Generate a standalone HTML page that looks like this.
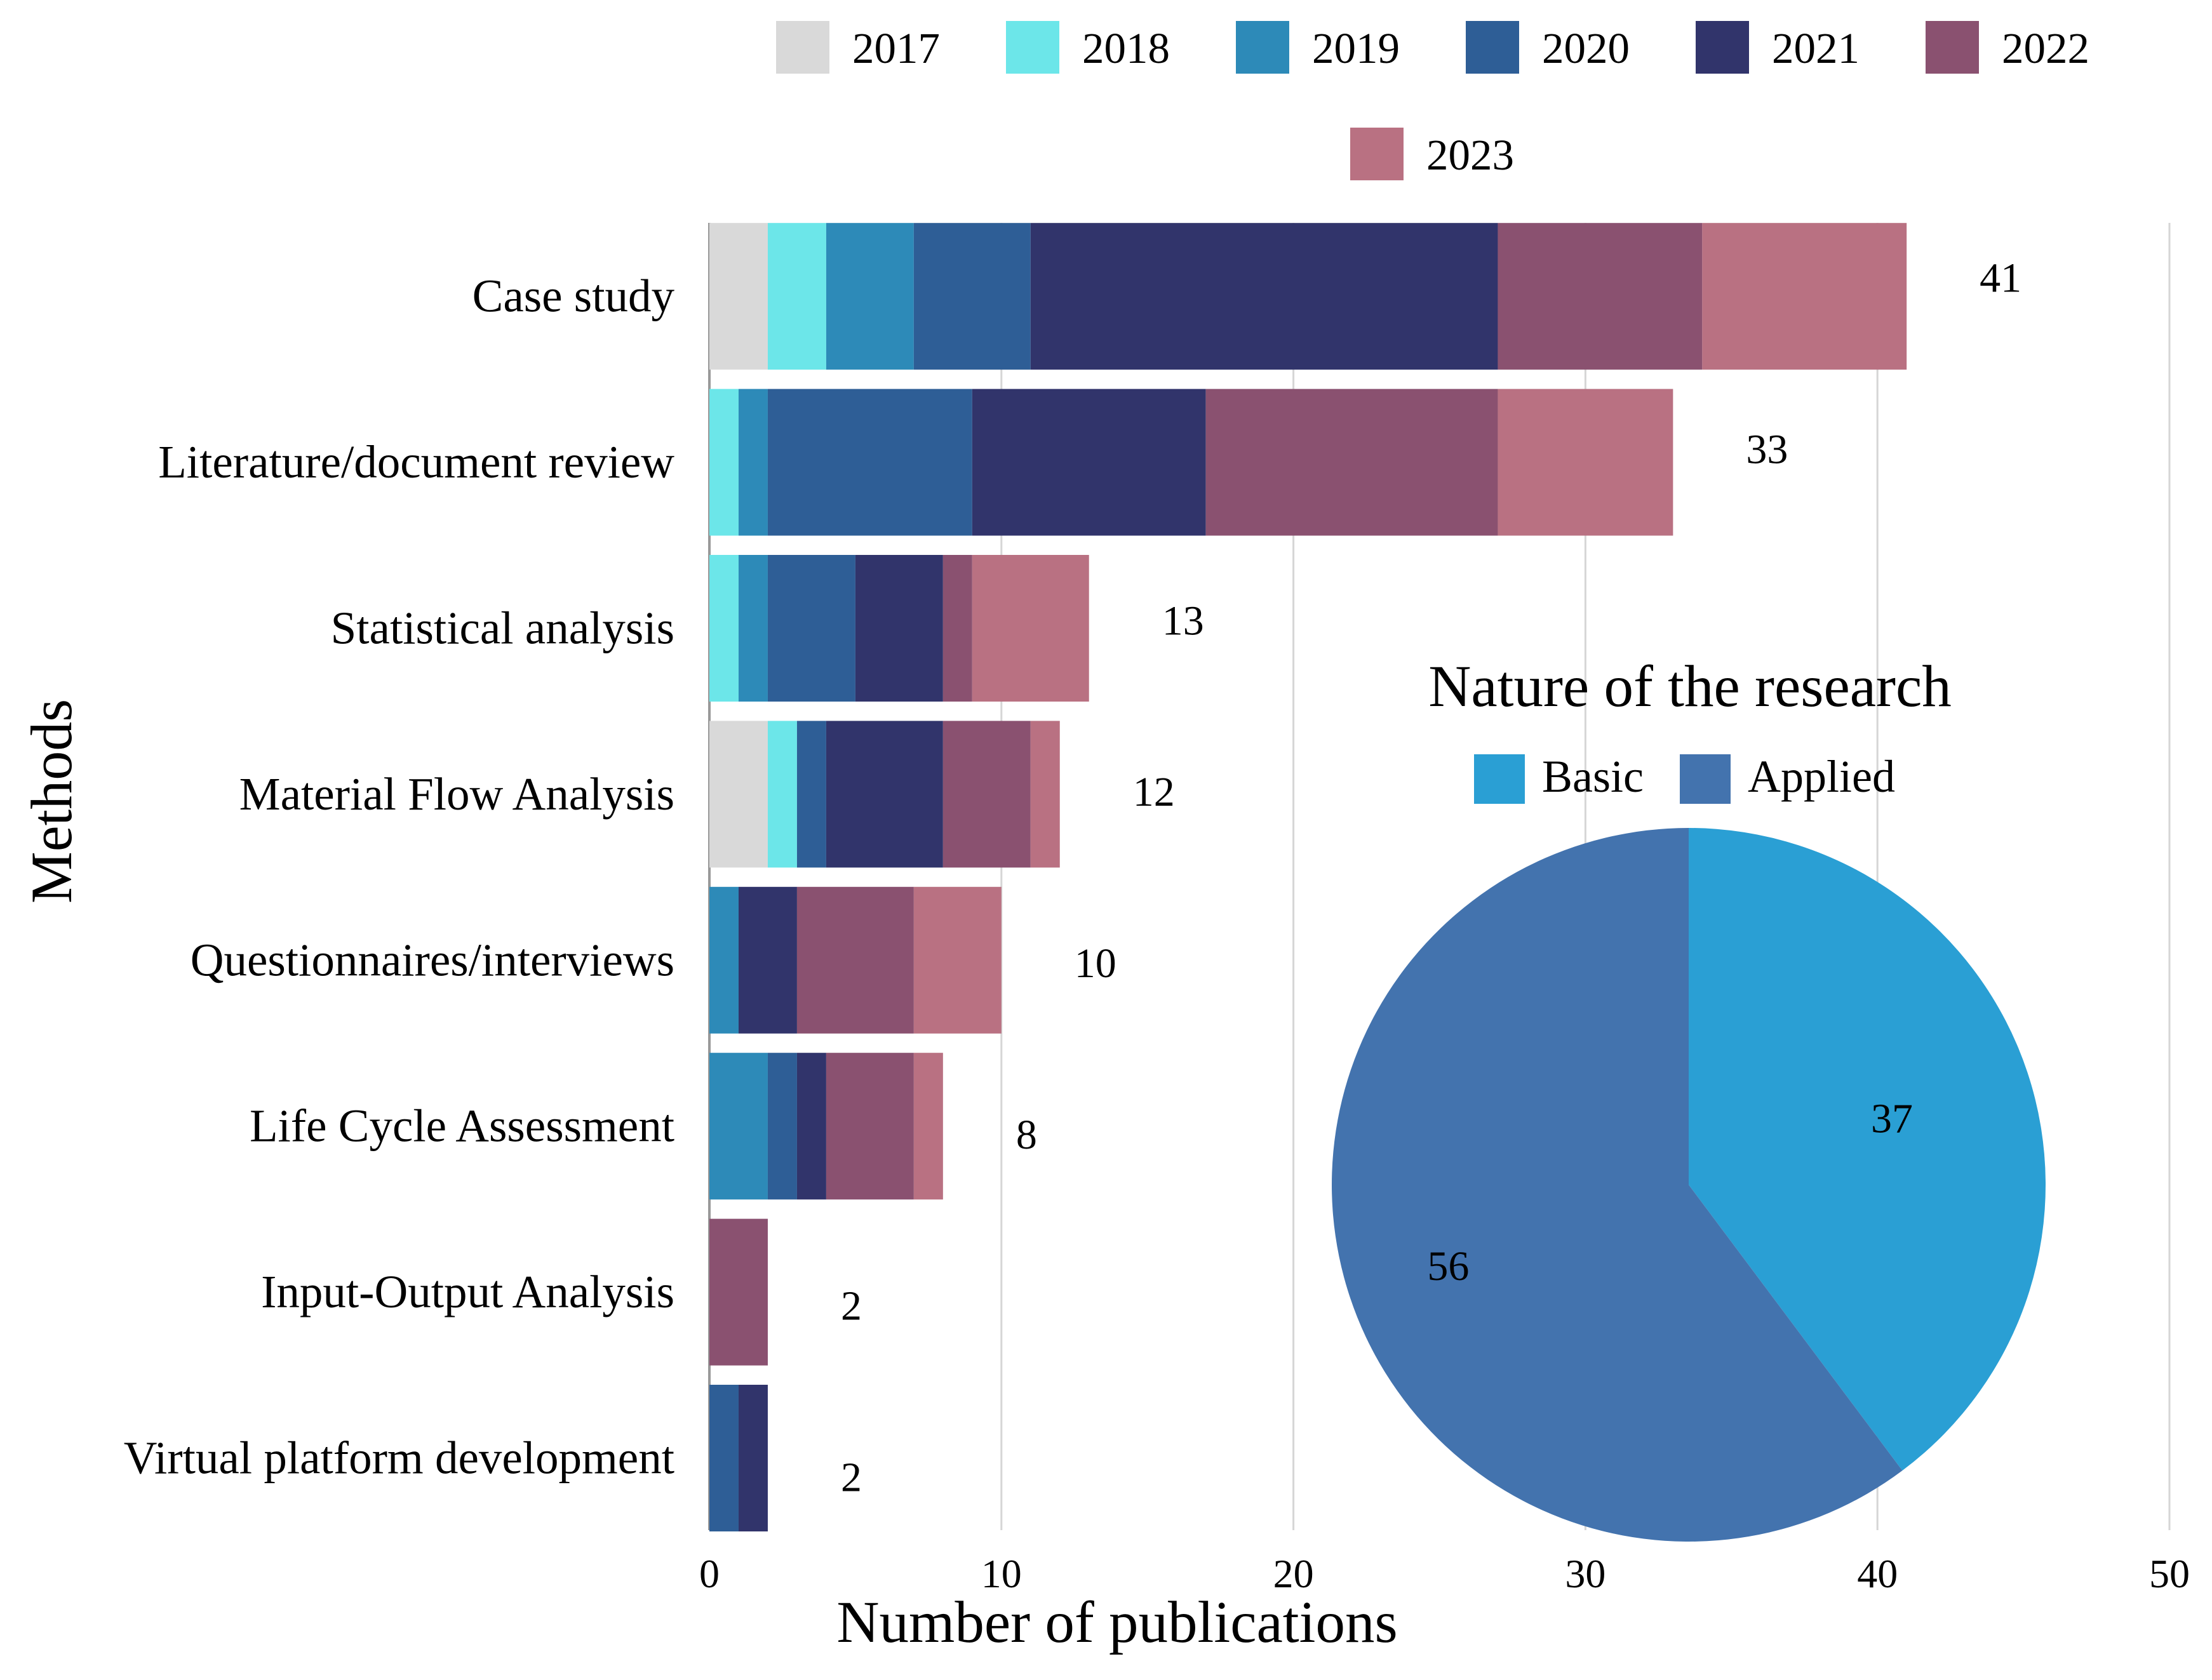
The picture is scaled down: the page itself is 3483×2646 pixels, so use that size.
<!DOCTYPE html>
<html><head><meta charset="utf-8"><style>
html,body{margin:0;padding:0;background:#fff}
svg{display:block;font-family:"Liberation Serif",serif}
</style></head><body>
<svg id="chart" width="3483" height="2646" viewBox="0 0 3483 2646" xmlns="http://www.w3.org/2000/svg">
<g id="grid"></g><g id="bars"></g><g id="labels"></g><g id="legend"></g><g id="pie"></g>
<text x="0" y="0" font-size="92" text-anchor="middle" transform="translate(112,1262) rotate(-90)">Methods</text>
<text x="1759" y="2586" font-size="93" text-anchor="middle">Number of publications</text>
<text x="2661" y="1112" font-size="93" text-anchor="middle">Nature of the research</text>
</svg>
<script>
const categories=["Case study","Literature/document review","Statistical analysis","Material Flow Analysis","Questionnaires/interviews","Life Cycle Assessment","Input-Output Analysis","Virtual platform development"];
const years=["2017","2018","2019","2020","2021","2022","2023"];
const s2017=[2,0,0,2,0,0,0,0];
const s2018=[2,1,1,1,0,0,0,0];
const s2019=[3,1,1,0,1,2,0,0];
const s2020=[4,7,3,1,0,1,0,1];
const s2021=[16,8,3,4,2,1,0,1];
const s2022=[7,10,1,3,4,3,2,0];
const s2023=[7,6,4,1,3,1,0,0];
const xTicks=[0,10,20,30,40,50];
const pieLabels=["Basic","Applied"];
const pieValues=[37,56];
const colors=["#d9d9d9","#6ce6e9","#2d8ab8","#2e5e96","#31346b","#8a5170","#b97182"];
const pieColors=["#2a9fd4","#4373ae"];
const NS="http://www.w3.org/2000/svg";
const series=[s2017,s2018,s2019,s2020,s2021,s2022,s2023];
const x0=1117,x1=3416,xmax=50,plotTop=351,rowH=261.4,barH=231;
const X=v=>x0+(x1-x0)*v/xmax;
const Y=i=>plotTop+i*rowH+(rowH-barH)/2-15;
function mk(tag,attrs,parent){const e=document.createElementNS(NS,tag);for(const k in attrs)e.setAttribute(k,attrs[k]);parent.appendChild(e);return e;}
const grid=document.getElementById('grid');
xTicks.forEach(t=>{
  if(t>0){const l=mk('line',{x1:X(t),x2:X(t),y1:plotTop,y2:2410,stroke:'#d6d6d6','stroke-width':3},grid);
  
  }
  const tx=mk('text',{x:X(t),y:2500,'font-size':64,'text-anchor':'middle'},grid);
  tx.textContent=t;
  
  
});
const ax=mk('line',{x1:x0,x2:x0,y1:plotTop,y2:2410,stroke:'#999','stroke-width':4},grid);


const bars=document.getElementById('bars'),labels=document.getElementById('labels');
categories.forEach((c,i)=>{
  let acc=0;
  series.forEach((s,j)=>{
    const v=s[i];
    if(v>0){const r=mk('rect',{x:X(acc),y:Y(i),width:X(acc+v)-X(acc),height:barH,fill:colors[j]},bars);
    
    }
    acc+=v;
  });
  const cy=Y(i)+barH/2;
  const t=mk('text',{x:1062,y:cy+24,'font-size':73,'text-anchor':'end'},labels);
  t.textContent=c;
  
  
  const dy=(i*3.8-14)*2.221;
  const vl=mk('text',{x:X(acc)+115,y:cy+24+dy,'font-size':66},labels);
  vl.textContent=acc;
  
  
});
const lg=document.getElementById('legend');
years.forEach((y,j)=>{
  const row=j<6?0:1;
  const sx=row===0?1222+j*362:2126;
  const sy=row===0?33:201;
  const r=mk('rect',{x:sx,y:sy,width:84,height:83,fill:colors[j]},lg);
  
  
  const t=mk('text',{x:sx+120,y:sy+66,'font-size':69},lg);
  t.textContent=y;
  
  
});
const pie=document.getElementById('pie');
const pcx=2659,pcy=1866,R=562,tot=pieValues.reduce((a,b)=>a+b,0);
const labelR=[0.6,0.71];
let ang=0;
pieValues.forEach((v,k)=>{
  const a0=ang,a1=ang+v/tot*2*Math.PI;ang=a1;
  const p=(q)=>[pcx+R*Math.sin(q),pcy-R*Math.cos(q)];
  const [sx,sy]=p(a0),[ex,ey]=p(a1);
  const large=(a1-a0)>Math.PI?1:0;
  const path=mk('path',{d:`M${pcx},${pcy} L${sx},${sy} A${R},${R} 0 ${large} 1 ${ex},${ey} Z`,fill:pieColors[k]},pie);
  
  
  const m=(a0+a1)/2,rr=R*labelR[k];
  const t=mk('text',{x:pcx+rr*Math.sin(m),y:pcy-rr*Math.cos(m)+24,'font-size':66,'text-anchor':'middle'},pie);
  t.textContent=v;
  
  
});
const plx=[2321,2645];
pieLabels.forEach((l,k)=>{
  const r=mk('rect',{x:plx[k],y:1188,width:80,height:78,fill:pieColors[k]},pie);
  
  
  const t=mk('text',{x:plx[k]+107,y:1247,'font-size':72},pie);
  t.textContent=l;
  
  
});
</script>
</body></html>
